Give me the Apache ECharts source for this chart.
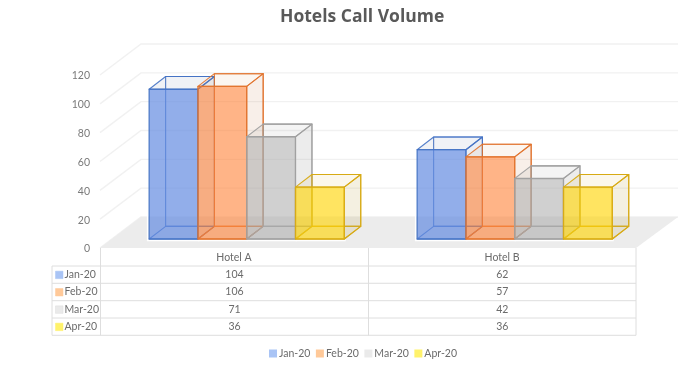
<!DOCTYPE html>
<html><head><meta charset="utf-8">
<style>html,body{margin:0;padding:0;background:#fff}#c{width:700px;height:367px}</style>
<script src="https://cdn.jsdelivr.net/npm/echarts@6/dist/echarts.min.js"></script>
</head><body><div id="c"></div>
<script>
const titleText = 'Hotels Call Volume';
const categories = ['Hotel A', 'Hotel B'];
const months = ['Jan-20', 'Feb-20', 'Mar-20', 'Apr-20'];
const jan = [104, 62];
const feb = [106, 57];
const mar = [71, 42];
const apr = [36, 36];
const yTicks = [0, 20, 40, 60, 80, 100, 120];

const FONT = 'Lato';
const TXT = '#6b6b6b';
const seriesValues = [jan, feb, mar, apr];
const keyColors = ['#A9C4F5', '#FFC999', '#EAEAEA', '#FFF26B'];
const stroke = ['rgba(68,114,196,0.9)', 'rgba(225,115,45,0.9)', 'rgba(160,160,160,0.95)', 'rgba(215,170,20,0.95)'];
const front = ['rgba(100,140,225,0.70)', 'rgba(255,130,55,0.60)', 'rgba(170,170,170,0.55)', 'rgba(255,212,0,0.62)'];
const sideFill = ['rgba(68,90,140,0.10)', 'rgba(200,120,70,0.12)', 'rgba(120,120,120,0.14)', 'rgba(180,150,40,0.14)'];
const topFill = ['rgba(70,90,140,0.08)', 'rgba(200,130,60,0.07)', 'rgba(120,120,120,0.08)', 'rgba(210,170,40,0.09)'];

const DX = 41, DY = 31;               // depth of the chart floor
const BAR_FRAC = 0.182;               // bar width as a share of the category band
const DEPTH_X = 0.338, DEPTH_Y = 0.26; // bar depth as a share of bar width

function wallItem(params, api) {
  const cs = params.coordSys;
  const y = api.coord([0, api.value(1)])[1];
  return {
    type: 'polyline',
    shape: { points: [[cs.x, y], [cs.x + DX, y - DY], [cs.x + cs.width + DX + 1, y - DY]] },
    style: { fill: null, stroke: '#f1f1f1', lineWidth: 1.4 },
    silent: true
  };
}
function floorItem(params) {
  const cs = params.coordSys;
  const b = cs.y + cs.height;
  return {
    type: 'polygon',
    shape: { points: [[cs.x, b], [cs.x + DX, b - DY], [cs.x + cs.width + DX + 1, b - DY], [cs.x + cs.width, b]] },
    style: { fill: '#ececec' },
    silent: true
  };
}
function barRenderer(si) {
  return function (params, api) {
    const band = api.size([1, 0])[0];
    const w = band * BAR_FRAC;
    const dx = w * DEPTH_X, dy = w * DEPTH_Y;
    const cx = api.coord([api.value(0), 0]);
    const top = api.coord([api.value(0), api.value(1)])[1];
    const base = cx[1];
    const x0 = cx[0] + (si - 2) * w, x1 = x0 + w;
    const s = stroke[si];
    const poly = (pts, fill, lw, col) => ({
      type: 'polygon', shape: { points: pts },
      style: { fill: fill, stroke: col || s, lineWidth: lw || 1.1, lineJoin: 'round' }, silent: true
    });
    const line = (pts, col, lw) => ({
      type: 'polyline', shape: { points: pts },
      style: { fill: null, stroke: col, lineWidth: lw }, silent: true
    });
    const halo = si === 0
      ? [[x0 - 1.5, base - dy * 2], [x0 - 1.5, base + 1.5], [x1 + 1.5, base + 1.5]]
      : [[x0, base + 1.5], [x1 + 1.5, base + 1.5]];
    return {
      type: 'group',
      children: [
        line(halo, '#ffffff', 1.5),
        poly([[x0 + dx, top - dy], [x1 + dx, top - dy], [x1 + dx, base - dy], [x0 + dx, base - dy]], 'rgba(255,255,255,0)'),
        poly([[x0, base], [x1, base], [x1 + dx, base - dy], [x0 + dx, base - dy]], 'rgba(0,0,0,0)'),
        poly([[x1, top], [x1 + dx, top - dy], [x1 + dx, base - dy], [x1, base]], sideFill[si]),
        poly([[x0, top], [x1, top], [x1 + dx, top - dy], [x0 + dx, top - dy]], topFill[si]),
        poly([[x0, top], [x1, top], [x1, base], [x0, base]], front[si], 1.3)
      ]
    };
  };
}

const option = {
  animation: false,
  backgroundColor: '#fff',
  title: {
    text: titleText, left: 275, top: 3,
    textStyle: { fontFamily: 'Open Sans', fontWeight: 'bold', fontSize: 17.5, color: '#595959' }
  },
  legend: {
    data: months, left: 264, top: 343, itemWidth: 8, itemHeight: 8, itemGap: 5.5, icon: 'rect',
    selectedMode: false,
    textStyle: { fontFamily: FONT, fontSize: 10.5, color: TXT, padding: [0, 0, 0, -3] }
  },
  grid: [
    { left: 100, width: 536, top: 75, height: 173 },
    { left: 112.7, width: 536, top: 66.2, height: 172.8 },
    { left: 100, width: 536, top: 76, height: 173 }
  ],
  xAxis: [
    { gridIndex: 0, type: 'category', data: categories, axisLine: { show: false }, axisTick: { show: false },
      axisLabel: { margin: 4, fontFamily: FONT, fontSize: 10.5, color: TXT } },
    { gridIndex: 1, type: 'category', data: categories, show: false },
    { gridIndex: 2, type: 'category', data: categories, show: false }
  ],
  yAxis: [
    { gridIndex: 0, type: 'value', min: 0, max: 120, interval: 20, show: false, splitLine: { show: false } },
    { gridIndex: 1, type: 'value', min: 0, max: 120, interval: 20, show: false, splitLine: { show: false } },
    { gridIndex: 2, type: 'value', min: 0, max: 120, interval: 20, splitLine: { show: false },
      axisLine: { show: false }, axisTick: { show: false },
      axisLabel: { margin: 10, fontFamily: FONT, fontSize: 10.5, color: '#7a7a7a' } }
  ],
  series: [
    { type: 'custom', name: 'walls', xAxisIndex: 0, yAxisIndex: 0, z: 1, silent: true,
      data: yTicks.map(v => [0, v]), encode: { x: 0, y: 1 }, renderItem: wallItem },
    { type: 'custom', name: 'floor', xAxisIndex: 0, yAxisIndex: 0, z: 2, silent: true,
      data: [[0, 0]], encode: { x: 0, y: 1 }, renderItem: floorItem }
  ].concat(months.map((m, si) => ({
    type: 'custom', name: m, xAxisIndex: 1, yAxisIndex: 1, z: 3 + si,
    itemStyle: { color: keyColors[si] },
    data: seriesValues[si].map((v, i) => [i, v]),
    encode: { x: 0, y: 1 },
    renderItem: barRenderer(si)
  }))),
  graphic: buildTable()
};

function buildTable() {
  const xs = [52, 100.5, 368.5, 636];
  const ys = [248, 266, 283.3, 300.7, 318, 335.3];
  const col = '#dedede';
  const els = [];
  const ln = (x1, y1, x2, y2) => els.push({
    type: 'line', silent: true, z: 20,
    shape: { x1, y1, x2, y2 }, style: { stroke: col, lineWidth: 1 }
  });
  for (let i = 1; i < ys.length; i++) ln(xs[0], ys[i], xs[3], ys[i]);
  ln(xs[0], ys[1], xs[0], ys[5]);
  ln(xs[1], ys[0], xs[1], ys[5]);
  ln(xs[2], ys[0], xs[2], ys[5]);
  ln(xs[3], ys[0], xs[3], ys[5]);
  months.forEach((m, r) => {
    const cy = (ys[r + 1] + ys[r + 2]) / 2;
    els.push({ type: 'rect', silent: true, z: 20,
      shape: { x: 55.5, y: cy - 3.5, width: 7.5, height: 7.5 },
      style: { fill: keyColors[r], stroke: r === 2 ? '#dcdcdc' : keyColors[r], lineWidth: 0.5 } });
    els.push({ type: 'text', silent: true, z: 20, x: 64.5, y: cy,
      style: { text: m, fontFamily: FONT, fontSize: 10.5, fill: TXT, textVerticalAlign: 'middle', textAlign: 'left' } });
    seriesValues[r].forEach((v, c) => {
      els.push({ type: 'text', silent: true, z: 20, x: (xs[c + 1] + xs[c + 2]) / 2, y: cy,
        style: { text: String(v), fontFamily: FONT, fontSize: 10.5, fill: TXT, textVerticalAlign: 'middle', textAlign: 'center' } });
    });
  });
  return els;
}

echarts.init(document.getElementById('c'), null, { renderer: 'canvas' }).setOption(option);
</script>
</body></html>
